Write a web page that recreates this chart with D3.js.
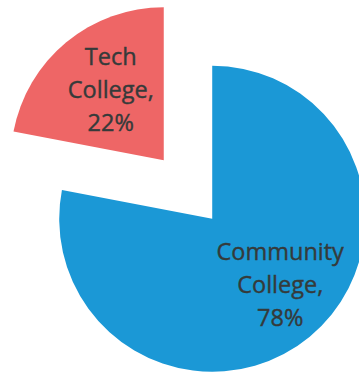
<!DOCTYPE html><html lang="en">
<head>
  <meta charset="UTF-8">
  <title>College Split</title>
  <script src="https://d3js.org/d3.v7.min.js"></script>
  <style>
    body {
      margin: 0;
      background: white;
    }
    svg {
      display: block;
    }
    .label {
      font-family: "Open Sans", sans-serif;
      font-size: 23.5px;
      fill: #353a3a;
      stroke: #353a3a;
      stroke-width: 0.4px;
    }
  </style>
</head>
<body>
<svg width="359" height="375"></svg>
<script>
const categories = ["Community College", "Tech College"];
const labelLines = [["Community", "College,", "78%"], ["Tech", "College,", "22%"]];
const shares = [78, 22];
const colors = ["#1b98d6", "#ee6666"];

const width = 359;
const height = 375;
const cx = 188, cy = 189.5;
const radius = 153;
const explode = 38;

const svg = d3.select("svg");
const g = svg.append("g").attr("transform", `translate(${cx},${cy})`);

const pie = d3.pie().sort(null).value(d => d)(shares);
const arc = d3.arc().innerRadius(0).outerRadius(radius);

// label middle-line position relative to slice apex
const labelPos = [[68, 66], [-53, -70]];
const lh = 33;

pie.forEach((p, i) => {
  const mid = (p.startAngle + p.endAngle) / 2;
  const dx = Math.sin(mid) * explode;
  const dy = -Math.cos(mid) * explode;
  const slice = g.append("g").attr("transform", `translate(${dx},${dy})`);

  slice.append("path")
    .attr("d", arc(p))
    .attr("fill", colors[i]);

  const [lx, ly] = labelPos[i];
  const lines = labelLines[i];
  const t = slice.append("text")
    .attr("class", "label")
    .attr("text-anchor", "middle")
    .attr("x", lx)
    .attr("y", ly - (lines.length - 1) * lh / 2 + 8);
  lines.forEach((s, k) => {
    t.append("tspan")
      .attr("x", lx)
      .attr("dy", k === 0 ? 0 : lh)
      .text(s);
  });
});
</script>
</body>
</html>
